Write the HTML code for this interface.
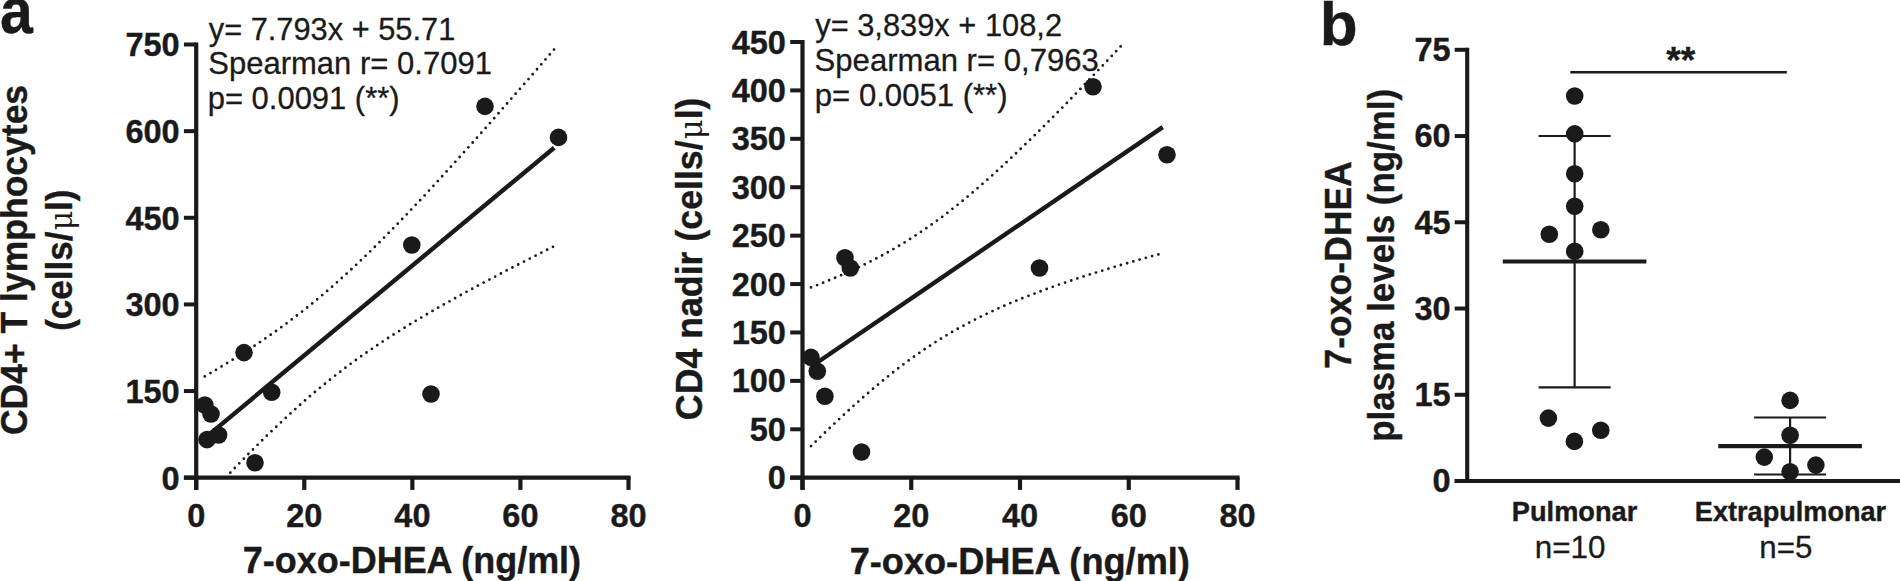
<!DOCTYPE html>
<html lang="en"><head><meta charset="utf-8"><title>Figure</title>
<style>html,body{margin:0;padding:0;background:#fff;overflow:hidden}svg{display:block}</style></head>
<body><svg width="1900" height="581" viewBox="0 0 1900 581">
<rect width="1900" height="581" fill="#ffffff"/>
<text x="208.76" y="39.8" font-family="Liberation Sans, sans-serif" font-weight="400" font-size="31.6" fill="#1a1a1a" stroke="#1a1a1a" stroke-width="0.3" stroke-linejoin="round" textLength="246.56" lengthAdjust="spacingAndGlyphs">y= 7.793x + 55.71</text>
<text x="208.23" y="74.2" font-family="Liberation Sans, sans-serif" font-weight="400" font-size="31.6" fill="#1a1a1a" stroke="#1a1a1a" stroke-width="0.3" stroke-linejoin="round" textLength="283.68" lengthAdjust="spacingAndGlyphs">Spearman r= 0.7091</text>
<text x="207.74" y="108.7" font-family="Liberation Sans, sans-serif" font-weight="400" font-size="31.6" fill="#1a1a1a" stroke="#1a1a1a" stroke-width="0.3" stroke-linejoin="round" textLength="191.81" lengthAdjust="spacingAndGlyphs">p= 0.0091 (**)</text>
<text x="815.26" y="36.2" font-family="Liberation Sans, sans-serif" font-weight="400" font-size="31.6" fill="#1a1a1a" stroke="#1a1a1a" stroke-width="0.3" stroke-linejoin="round" textLength="246.81" lengthAdjust="spacingAndGlyphs">y= 3,839x + 108,2</text>
<text x="814.62" y="71.0" font-family="Liberation Sans, sans-serif" font-weight="400" font-size="31.6" fill="#1a1a1a" stroke="#1a1a1a" stroke-width="0.3" stroke-linejoin="round" textLength="284.19" lengthAdjust="spacingAndGlyphs">Spearman r= 0,7963</text>
<text x="814.83" y="105.9" font-family="Liberation Sans, sans-serif" font-weight="400" font-size="31.6" fill="#1a1a1a" stroke="#1a1a1a" stroke-width="0.3" stroke-linejoin="round" textLength="192.73" lengthAdjust="spacingAndGlyphs">p= 0.0051 (**)</text>
<text x="1534.77" y="557.5" font-family="Liberation Sans, sans-serif" font-weight="400" font-size="31.6" fill="#1a1a1a" stroke="#1a1a1a" stroke-width="0.3" stroke-linejoin="round" textLength="70.59" lengthAdjust="spacingAndGlyphs">n=10</text>
<text x="1759.27" y="557.5" font-family="Liberation Sans, sans-serif" font-weight="400" font-size="31.6" fill="#1a1a1a" stroke="#1a1a1a" stroke-width="0.3" stroke-linejoin="round" textLength="53.06" lengthAdjust="spacingAndGlyphs">n=5</text>
<text x="242.81" y="572.8" font-family="Liberation Sans, sans-serif" font-weight="700" font-size="37.4" fill="#1a1a1a" stroke="#1a1a1a" stroke-width="0.4" stroke-linejoin="round" textLength="338.30" lengthAdjust="spacingAndGlyphs">7-oxo-DHEA (ng/ml)</text>
<text x="849.65" y="573.5" font-family="Liberation Sans, sans-serif" font-weight="700" font-size="37.4" fill="#1a1a1a" stroke="#1a1a1a" stroke-width="0.4" stroke-linejoin="round" textLength="340.27" lengthAdjust="spacingAndGlyphs">7-oxo-DHEA (ng/ml)</text>
<text x="1511.86" y="520.9" font-family="Liberation Sans, sans-serif" font-weight="700" font-size="27.4" fill="#1a1a1a" stroke="#1a1a1a" stroke-width="0.4" stroke-linejoin="round" textLength="125.36" lengthAdjust="spacingAndGlyphs">Pulmonar</text>
<text x="1694.87" y="520.9" font-family="Liberation Sans, sans-serif" font-weight="700" font-size="27.4" fill="#1a1a1a" stroke="#1a1a1a" stroke-width="0.4" stroke-linejoin="round" textLength="191.29" lengthAdjust="spacingAndGlyphs">Extrapulmonar</text>
<text transform="translate(26.7,435.02) rotate(-90)" font-family="Liberation Sans, sans-serif" font-weight="700" font-size="37.4" fill="#1a1a1a" stroke="#1a1a1a" stroke-width="0.4" stroke-linejoin="round" textLength="350.14" lengthAdjust="spacingAndGlyphs">CD4+ T lymphocytes</text>
<text transform="translate(71.8,330.85) rotate(-90)" font-family="Liberation Sans, sans-serif" font-weight="700" font-size="37.4" fill="#1a1a1a" stroke="#1a1a1a" stroke-width="0.4" stroke-linejoin="round" textLength="141.37" lengthAdjust="spacingAndGlyphs">(cells/<tspan dx="1.3" font-family="DejaVu Serif, Liberation Serif, serif" font-weight="400" stroke-width="0" font-size="32">μ</tspan>l)</text>
<text transform="translate(701.8,420.14) rotate(-90)" font-family="Liberation Sans, sans-serif" font-weight="700" font-size="37.4" fill="#1a1a1a" stroke="#1a1a1a" stroke-width="0.4" stroke-linejoin="round" textLength="322.65" lengthAdjust="spacingAndGlyphs">CD4 nadir (cells/<tspan dx="1.3" font-family="DejaVu Serif, Liberation Serif, serif" font-weight="400" stroke-width="0" font-size="32">μ</tspan>l)</text>
<text transform="translate(1351.0,368.63) rotate(-90)" font-family="Liberation Sans, sans-serif" font-weight="700" font-size="37.4" fill="#1a1a1a" stroke="#1a1a1a" stroke-width="0.4" stroke-linejoin="round" textLength="207.40" lengthAdjust="spacingAndGlyphs">7-oxo-DHEA</text>
<text transform="translate(1394.0,441.83) rotate(-90)" font-family="Liberation Sans, sans-serif" font-weight="700" font-size="37.4" fill="#1a1a1a" stroke="#1a1a1a" stroke-width="0.4" stroke-linejoin="round" textLength="352.96" lengthAdjust="spacingAndGlyphs">plasma levels (ng/ml)</text>
<path d="M196.2,42.5 V489.7" stroke="#1a1a1a" stroke-width="4.2" fill="none"/>
<path d="M183.89999999999998,477.7 H630.6" stroke="#1a1a1a" stroke-width="4.2" fill="none"/>
<path d="M183.89999999999998,477.70 H196.2" stroke="#1a1a1a" stroke-width="4" fill="none"/>
<text transform="translate(179.6,489.6) scale(0.967,1)" text-anchor="end" font-size="33.6" font-family="Liberation Sans, sans-serif" font-weight="700" stroke="#1a1a1a" stroke-width="0.4" stroke-linejoin="round" fill="#1a1a1a">0</text>
<path d="M183.89999999999998,391.06 H196.2" stroke="#1a1a1a" stroke-width="4" fill="none"/>
<text transform="translate(179.6,403.0) scale(0.967,1)" text-anchor="end" font-size="33.6" font-family="Liberation Sans, sans-serif" font-weight="700" stroke="#1a1a1a" stroke-width="0.4" stroke-linejoin="round" fill="#1a1a1a">150</text>
<path d="M183.89999999999998,304.42 H196.2" stroke="#1a1a1a" stroke-width="4" fill="none"/>
<text transform="translate(179.6,316.3) scale(0.967,1)" text-anchor="end" font-size="33.6" font-family="Liberation Sans, sans-serif" font-weight="700" stroke="#1a1a1a" stroke-width="0.4" stroke-linejoin="round" fill="#1a1a1a">300</text>
<path d="M183.89999999999998,217.78 H196.2" stroke="#1a1a1a" stroke-width="4" fill="none"/>
<text transform="translate(179.6,229.7) scale(0.967,1)" text-anchor="end" font-size="33.6" font-family="Liberation Sans, sans-serif" font-weight="700" stroke="#1a1a1a" stroke-width="0.4" stroke-linejoin="round" fill="#1a1a1a">450</text>
<path d="M183.89999999999998,131.14 H196.2" stroke="#1a1a1a" stroke-width="4" fill="none"/>
<text transform="translate(179.6,143.0) scale(0.967,1)" text-anchor="end" font-size="33.6" font-family="Liberation Sans, sans-serif" font-weight="700" stroke="#1a1a1a" stroke-width="0.4" stroke-linejoin="round" fill="#1a1a1a">600</text>
<path d="M183.89999999999998,44.50 H196.2" stroke="#1a1a1a" stroke-width="4" fill="none"/>
<text transform="translate(179.6,56.4) scale(0.967,1)" text-anchor="end" font-size="33.6" font-family="Liberation Sans, sans-serif" font-weight="700" stroke="#1a1a1a" stroke-width="0.4" stroke-linejoin="round" fill="#1a1a1a">750</text>
<path d="M196.20,477.7 V489.9" stroke="#1a1a1a" stroke-width="4.2" fill="none"/>
<text transform="translate(196.2,526.8) scale(0.967,1)" text-anchor="middle" font-size="33.6" font-family="Liberation Sans, sans-serif" font-weight="700" stroke="#1a1a1a" stroke-width="0.4" stroke-linejoin="round" fill="#1a1a1a">0</text>
<path d="M304.27,477.7 V489.9" stroke="#1a1a1a" stroke-width="4.2" fill="none"/>
<text transform="translate(304.3,526.8) scale(0.967,1)" text-anchor="middle" font-size="33.6" font-family="Liberation Sans, sans-serif" font-weight="700" stroke="#1a1a1a" stroke-width="0.4" stroke-linejoin="round" fill="#1a1a1a">20</text>
<path d="M412.35,477.7 V489.9" stroke="#1a1a1a" stroke-width="4.2" fill="none"/>
<text transform="translate(412.4,526.8) scale(0.967,1)" text-anchor="middle" font-size="33.6" font-family="Liberation Sans, sans-serif" font-weight="700" stroke="#1a1a1a" stroke-width="0.4" stroke-linejoin="round" fill="#1a1a1a">40</text>
<path d="M520.42,477.7 V489.9" stroke="#1a1a1a" stroke-width="4.2" fill="none"/>
<text transform="translate(520.4,526.8) scale(0.967,1)" text-anchor="middle" font-size="33.6" font-family="Liberation Sans, sans-serif" font-weight="700" stroke="#1a1a1a" stroke-width="0.4" stroke-linejoin="round" fill="#1a1a1a">60</text>
<path d="M628.50,477.7 V489.9" stroke="#1a1a1a" stroke-width="4.2" fill="none"/>
<text transform="translate(628.5,526.8) scale(0.967,1)" text-anchor="middle" font-size="33.6" font-family="Liberation Sans, sans-serif" font-weight="700" stroke="#1a1a1a" stroke-width="0.4" stroke-linejoin="round" fill="#1a1a1a">80</text>
<path d="M204.8,376.4 L211.8,372.3 L218.8,368.1 L225.8,363.9 L232.8,359.6 L239.8,355.2 L246.8,350.7 L253.8,346.2 L260.8,341.5 L267.8,336.7 L274.9,331.8 L281.9,326.8 L288.9,321.6 L295.9,316.3 L302.9,310.9 L309.9,305.3 L316.9,299.6 L323.9,293.7 L330.9,287.7 L337.9,281.5 L344.9,275.2 L351.9,268.8 L358.9,262.2 L365.9,255.5 L372.9,248.7 L379.9,241.8 L386.9,234.7 L393.9,227.6 L401.0,220.3 L408.0,213.0 L415.0,205.6 L422.0,198.2 L429.0,190.6 L436.0,183.0 L443.0,175.4 L450.0,167.7 L457.0,160.0 L464.0,152.2 L471.0,144.4 L478.0,136.5 L485.0,128.6 L492.0,120.7 L499.0,112.7 L506.0,104.7 L513.0,96.7 L520.0,88.7 L527.1,80.7 L534.1,72.6 L541.1,64.5 L548.1,56.4 L554.2,49.3" stroke="#1a1a1a" stroke-width="2.8" stroke-linecap="round" stroke-dasharray="0 6.5" fill="none"/>
<path d="M225.8,477.4 L232.8,470.1 L239.8,462.8 L246.8,455.6 L253.8,448.6 L260.8,441.6 L267.8,434.7 L274.9,428.0 L281.9,421.4 L288.9,414.9 L295.9,408.5 L302.9,402.3 L309.9,396.2 L316.9,390.3 L323.9,384.6 L330.9,378.9 L337.9,373.4 L344.9,368.1 L351.9,362.9 L358.9,357.8 L365.9,352.9 L372.9,348.1 L379.9,343.4 L386.9,338.8 L393.9,334.3 L401.0,329.9 L408.0,325.5 L415.0,321.3 L422.0,317.1 L429.0,313.0 L436.0,308.9 L443.0,304.9 L450.0,301.0 L457.0,297.1 L464.0,293.2 L471.0,289.4 L478.0,285.6 L485.0,281.9 L492.0,278.2 L499.0,274.5 L506.0,270.8 L513.0,267.2 L520.0,263.6 L527.1,260.0 L534.1,256.4 L541.1,252.8 L548.1,249.3 L554.2,246.2" stroke="#1a1a1a" stroke-width="2.8" stroke-linecap="round" stroke-dasharray="0 6.5" fill="none"/>
<path d="M204.8,438.1 L554.2,147.7" stroke="#1a1a1a" stroke-width="4.4" fill="none"/>
<circle cx="204.8" cy="405" r="8.8" fill="#1a1a1a"/>
<circle cx="211" cy="414" r="8.8" fill="#1a1a1a"/>
<circle cx="207" cy="439.6" r="8.8" fill="#1a1a1a"/>
<circle cx="218.6" cy="435" r="8.8" fill="#1a1a1a"/>
<circle cx="244" cy="352.6" r="8.8" fill="#1a1a1a"/>
<circle cx="255" cy="462.8" r="8.8" fill="#1a1a1a"/>
<circle cx="271.7" cy="392.3" r="8.8" fill="#1a1a1a"/>
<circle cx="411.8" cy="245" r="8.8" fill="#1a1a1a"/>
<circle cx="431" cy="394" r="8.8" fill="#1a1a1a"/>
<circle cx="485" cy="106.4" r="8.8" fill="#1a1a1a"/>
<circle cx="558.5" cy="137.4" r="8.8" fill="#1a1a1a"/>
<path d="M802.5,40.0 V489.7" stroke="#1a1a1a" stroke-width="4.2" fill="none"/>
<path d="M790.2,477.7 H1239.6" stroke="#1a1a1a" stroke-width="4.2" fill="none"/>
<path d="M790.2,477.70 H802.5" stroke="#1a1a1a" stroke-width="4" fill="none"/>
<text transform="translate(785.9,489.2) scale(0.967,1)" text-anchor="end" font-size="33.6" font-family="Liberation Sans, sans-serif" font-weight="700" stroke="#1a1a1a" stroke-width="0.4" stroke-linejoin="round" fill="#1a1a1a">0</text>
<path d="M790.2,429.29 H802.5" stroke="#1a1a1a" stroke-width="4" fill="none"/>
<text transform="translate(785.9,440.8) scale(0.967,1)" text-anchor="end" font-size="33.6" font-family="Liberation Sans, sans-serif" font-weight="700" stroke="#1a1a1a" stroke-width="0.4" stroke-linejoin="round" fill="#1a1a1a">50</text>
<path d="M790.2,380.88 H802.5" stroke="#1a1a1a" stroke-width="4" fill="none"/>
<text transform="translate(785.9,392.4) scale(0.967,1)" text-anchor="end" font-size="33.6" font-family="Liberation Sans, sans-serif" font-weight="700" stroke="#1a1a1a" stroke-width="0.4" stroke-linejoin="round" fill="#1a1a1a">100</text>
<path d="M790.2,332.47 H802.5" stroke="#1a1a1a" stroke-width="4" fill="none"/>
<text transform="translate(785.9,344.0) scale(0.967,1)" text-anchor="end" font-size="33.6" font-family="Liberation Sans, sans-serif" font-weight="700" stroke="#1a1a1a" stroke-width="0.4" stroke-linejoin="round" fill="#1a1a1a">150</text>
<path d="M790.2,284.06 H802.5" stroke="#1a1a1a" stroke-width="4" fill="none"/>
<text transform="translate(785.9,295.6) scale(0.967,1)" text-anchor="end" font-size="33.6" font-family="Liberation Sans, sans-serif" font-weight="700" stroke="#1a1a1a" stroke-width="0.4" stroke-linejoin="round" fill="#1a1a1a">200</text>
<path d="M790.2,235.64 H802.5" stroke="#1a1a1a" stroke-width="4" fill="none"/>
<text transform="translate(785.9,247.1) scale(0.967,1)" text-anchor="end" font-size="33.6" font-family="Liberation Sans, sans-serif" font-weight="700" stroke="#1a1a1a" stroke-width="0.4" stroke-linejoin="round" fill="#1a1a1a">250</text>
<path d="M790.2,187.23 H802.5" stroke="#1a1a1a" stroke-width="4" fill="none"/>
<text transform="translate(785.9,198.7) scale(0.967,1)" text-anchor="end" font-size="33.6" font-family="Liberation Sans, sans-serif" font-weight="700" stroke="#1a1a1a" stroke-width="0.4" stroke-linejoin="round" fill="#1a1a1a">300</text>
<path d="M790.2,138.82 H802.5" stroke="#1a1a1a" stroke-width="4" fill="none"/>
<text transform="translate(785.9,150.3) scale(0.967,1)" text-anchor="end" font-size="33.6" font-family="Liberation Sans, sans-serif" font-weight="700" stroke="#1a1a1a" stroke-width="0.4" stroke-linejoin="round" fill="#1a1a1a">350</text>
<path d="M790.2,90.41 H802.5" stroke="#1a1a1a" stroke-width="4" fill="none"/>
<text transform="translate(785.9,101.9) scale(0.967,1)" text-anchor="end" font-size="33.6" font-family="Liberation Sans, sans-serif" font-weight="700" stroke="#1a1a1a" stroke-width="0.4" stroke-linejoin="round" fill="#1a1a1a">400</text>
<path d="M790.2,42.00 H802.5" stroke="#1a1a1a" stroke-width="4" fill="none"/>
<text transform="translate(785.9,53.5) scale(0.967,1)" text-anchor="end" font-size="33.6" font-family="Liberation Sans, sans-serif" font-weight="700" stroke="#1a1a1a" stroke-width="0.4" stroke-linejoin="round" fill="#1a1a1a">450</text>
<path d="M802.50,477.7 V489.9" stroke="#1a1a1a" stroke-width="4.2" fill="none"/>
<text transform="translate(802.5,526.8) scale(0.967,1)" text-anchor="middle" font-size="33.6" font-family="Liberation Sans, sans-serif" font-weight="700" stroke="#1a1a1a" stroke-width="0.4" stroke-linejoin="round" fill="#1a1a1a">0</text>
<path d="M911.25,477.7 V489.9" stroke="#1a1a1a" stroke-width="4.2" fill="none"/>
<text transform="translate(911.2,526.8) scale(0.967,1)" text-anchor="middle" font-size="33.6" font-family="Liberation Sans, sans-serif" font-weight="700" stroke="#1a1a1a" stroke-width="0.4" stroke-linejoin="round" fill="#1a1a1a">20</text>
<path d="M1020.00,477.7 V489.9" stroke="#1a1a1a" stroke-width="4.2" fill="none"/>
<text transform="translate(1020.0,526.8) scale(0.967,1)" text-anchor="middle" font-size="33.6" font-family="Liberation Sans, sans-serif" font-weight="700" stroke="#1a1a1a" stroke-width="0.4" stroke-linejoin="round" fill="#1a1a1a">40</text>
<path d="M1128.75,477.7 V489.9" stroke="#1a1a1a" stroke-width="4.2" fill="none"/>
<text transform="translate(1128.8,526.8) scale(0.967,1)" text-anchor="middle" font-size="33.6" font-family="Liberation Sans, sans-serif" font-weight="700" stroke="#1a1a1a" stroke-width="0.4" stroke-linejoin="round" fill="#1a1a1a">60</text>
<path d="M1237.50,477.7 V489.9" stroke="#1a1a1a" stroke-width="4.2" fill="none"/>
<text transform="translate(1237.5,526.8) scale(0.967,1)" text-anchor="middle" font-size="33.6" font-family="Liberation Sans, sans-serif" font-weight="700" stroke="#1a1a1a" stroke-width="0.4" stroke-linejoin="round" fill="#1a1a1a">80</text>
<path d="M811.0,287.4 L818.1,284.7 L825.1,281.9 L832.2,279.0 L839.2,276.0 L846.3,272.9 L853.3,269.8 L860.4,266.4 L867.4,263.0 L874.5,259.4 L881.5,255.7 L888.6,251.8 L895.6,247.8 L902.7,243.6 L909.7,239.2 L916.8,234.7 L923.8,229.9 L930.9,225.0 L937.9,219.9 L945.0,214.7 L952.0,209.2 L959.1,203.6 L966.1,197.9 L973.2,192.0 L980.2,185.9 L987.3,179.7 L994.3,173.4 L1001.4,167.0 L1008.4,160.4 L1015.5,153.8 L1022.5,147.0 L1029.6,140.2 L1036.7,133.3 L1043.7,126.3 L1050.8,119.2 L1057.8,112.1 L1064.9,104.9 L1071.9,97.7 L1079.0,90.4 L1086.0,83.0 L1093.1,75.6 L1100.1,68.2 L1107.2,60.8 L1114.2,53.3 L1121.3,45.7 L1123.9,42.9" stroke="#1a1a1a" stroke-width="2.8" stroke-linecap="round" stroke-dasharray="0 6.5" fill="none"/>
<path d="M811.0,446.1 L818.1,439.2 L825.1,432.4 L832.2,425.6 L839.2,419.0 L846.3,412.4 L853.3,406.0 L860.4,399.7 L867.4,393.6 L874.5,387.5 L881.5,381.6 L888.6,375.9 L895.6,370.3 L902.7,364.9 L909.7,359.7 L916.8,354.7 L923.8,349.8 L930.9,345.1 L937.9,340.5 L945.0,336.2 L952.0,332.0 L959.1,328.0 L966.1,324.2 L973.2,320.5 L980.2,316.9 L987.3,313.5 L994.3,310.2 L1001.4,307.0 L1008.4,303.9 L1015.5,301.0 L1022.5,298.1 L1029.6,295.4 L1036.7,292.7 L1043.7,290.1 L1050.8,287.5 L1057.8,285.0 L1064.9,282.6 L1071.9,280.3 L1079.0,277.9 L1086.0,275.7 L1093.1,273.4 L1100.1,271.3 L1107.2,269.1 L1114.2,267.0 L1121.3,264.9 L1128.3,262.9 L1135.4,260.8 L1142.4,258.8 L1149.5,256.8 L1156.5,254.9 L1162.7,253.2" stroke="#1a1a1a" stroke-width="2.8" stroke-linecap="round" stroke-dasharray="0 6.5" fill="none"/>
<path d="M811.0,366.7 L1162.7,127.1" stroke="#1a1a1a" stroke-width="4.4" fill="none"/>
<circle cx="845" cy="257.7" r="8.8" fill="#1a1a1a"/>
<circle cx="850.3" cy="268" r="8.8" fill="#1a1a1a"/>
<circle cx="811" cy="357.4" r="8.8" fill="#1a1a1a"/>
<circle cx="817.3" cy="371.2" r="8.8" fill="#1a1a1a"/>
<circle cx="824.9" cy="396.3" r="8.8" fill="#1a1a1a"/>
<circle cx="861.5" cy="452" r="8.8" fill="#1a1a1a"/>
<circle cx="1039.5" cy="268" r="8.8" fill="#1a1a1a"/>
<circle cx="1093" cy="86.7" r="8.8" fill="#1a1a1a"/>
<circle cx="1167" cy="154.7" r="8.8" fill="#1a1a1a"/>
<text transform="translate(-0.1,32.9) scale(0.90,1)" font-size="65.5" font-family="Liberation Sans, sans-serif" font-weight="700" stroke="#1a1a1a" stroke-width="0.4" stroke-linejoin="round" fill="#1a1a1a">a</text>
<text x="1319.8" y="44.8" font-size="62" font-family="Liberation Sans, sans-serif" font-weight="700" stroke="#1a1a1a" stroke-width="0.4" stroke-linejoin="round" fill="#1a1a1a">b</text>
<path d="M1467.2,47.8 V481.0" stroke="#1a1a1a" stroke-width="4.1" fill="none"/>
<path d="M1454.7,481.0 H1900" stroke="#1a1a1a" stroke-width="4" fill="none"/>
<path d="M1454.7,481.00 H1467.2" stroke="#1a1a1a" stroke-width="4" fill="none"/>
<text transform="translate(1450.7,492.2) scale(0.967,1)" text-anchor="end" font-size="33.6" font-family="Liberation Sans, sans-serif" font-weight="700" stroke="#1a1a1a" stroke-width="0.4" stroke-linejoin="round" fill="#1a1a1a">0</text>
<path d="M1454.7,394.76 H1467.2" stroke="#1a1a1a" stroke-width="4" fill="none"/>
<text transform="translate(1450.7,406.0) scale(0.967,1)" text-anchor="end" font-size="33.6" font-family="Liberation Sans, sans-serif" font-weight="700" stroke="#1a1a1a" stroke-width="0.4" stroke-linejoin="round" fill="#1a1a1a">15</text>
<path d="M1454.7,308.52 H1467.2" stroke="#1a1a1a" stroke-width="4" fill="none"/>
<text transform="translate(1450.7,319.7) scale(0.967,1)" text-anchor="end" font-size="33.6" font-family="Liberation Sans, sans-serif" font-weight="700" stroke="#1a1a1a" stroke-width="0.4" stroke-linejoin="round" fill="#1a1a1a">30</text>
<path d="M1454.7,222.28 H1467.2" stroke="#1a1a1a" stroke-width="4" fill="none"/>
<text transform="translate(1450.7,233.5) scale(0.967,1)" text-anchor="end" font-size="33.6" font-family="Liberation Sans, sans-serif" font-weight="700" stroke="#1a1a1a" stroke-width="0.4" stroke-linejoin="round" fill="#1a1a1a">45</text>
<path d="M1454.7,136.04 H1467.2" stroke="#1a1a1a" stroke-width="4" fill="none"/>
<text transform="translate(1450.7,147.2) scale(0.967,1)" text-anchor="end" font-size="33.6" font-family="Liberation Sans, sans-serif" font-weight="700" stroke="#1a1a1a" stroke-width="0.4" stroke-linejoin="round" fill="#1a1a1a">60</text>
<path d="M1454.7,49.80 H1467.2" stroke="#1a1a1a" stroke-width="4" fill="none"/>
<text transform="translate(1450.7,61.0) scale(0.967,1)" text-anchor="end" font-size="33.6" font-family="Liberation Sans, sans-serif" font-weight="700" stroke="#1a1a1a" stroke-width="0.4" stroke-linejoin="round" fill="#1a1a1a">75</text>
<path d="M1574.6,136.0 V387.3 M1538.6,136.0 H1610.6 M1538.6,387.3 H1610.6" stroke="#1a1a1a" stroke-width="2.2" fill="none"/>
<path d="M1502.8,261.5 H1646.3999999999999" stroke="#1a1a1a" stroke-width="4.1" fill="none"/>
<path d="M1790.1,417.5 V474.5 M1754.1,417.5 H1826.1 M1754.1,474.5 H1826.1" stroke="#1a1a1a" stroke-width="2.2" fill="none"/>
<path d="M1718.3,446.1 H1861.8999999999999" stroke="#1a1a1a" stroke-width="4.1" fill="none"/>
<circle cx="1574.7" cy="96" r="8.8" fill="#1a1a1a"/>
<circle cx="1574.7" cy="133.9" r="8.8" fill="#1a1a1a"/>
<circle cx="1574.7" cy="173.7" r="8.8" fill="#1a1a1a"/>
<circle cx="1574.7" cy="206.2" r="8.8" fill="#1a1a1a"/>
<circle cx="1549.3" cy="234.2" r="8.8" fill="#1a1a1a"/>
<circle cx="1600.8" cy="229.7" r="8.8" fill="#1a1a1a"/>
<circle cx="1574.7" cy="251.3" r="8.8" fill="#1a1a1a"/>
<circle cx="1548.4" cy="418.1" r="8.8" fill="#1a1a1a"/>
<circle cx="1574.4" cy="441.4" r="8.8" fill="#1a1a1a"/>
<circle cx="1600.8" cy="430.2" r="8.8" fill="#1a1a1a"/>
<circle cx="1790.1" cy="400.4" r="8.8" fill="#1a1a1a"/>
<circle cx="1790.1" cy="435.3" r="8.8" fill="#1a1a1a"/>
<circle cx="1764.3" cy="457.1" r="8.8" fill="#1a1a1a"/>
<circle cx="1815.9" cy="465.1" r="8.8" fill="#1a1a1a"/>
<circle cx="1790.1" cy="471.8" r="8.8" fill="#1a1a1a"/>
<path d="M1570.3,72.3 H1786.8" stroke="#1a1a1a" stroke-width="2.6" fill="none"/>
<text x="1680.8" y="73.2" text-anchor="middle" font-size="37.2" font-family="Liberation Sans, sans-serif" font-weight="700" stroke="#1a1a1a" stroke-width="0.4" stroke-linejoin="round" fill="#1a1a1a">**</text>
</svg></body></html>
